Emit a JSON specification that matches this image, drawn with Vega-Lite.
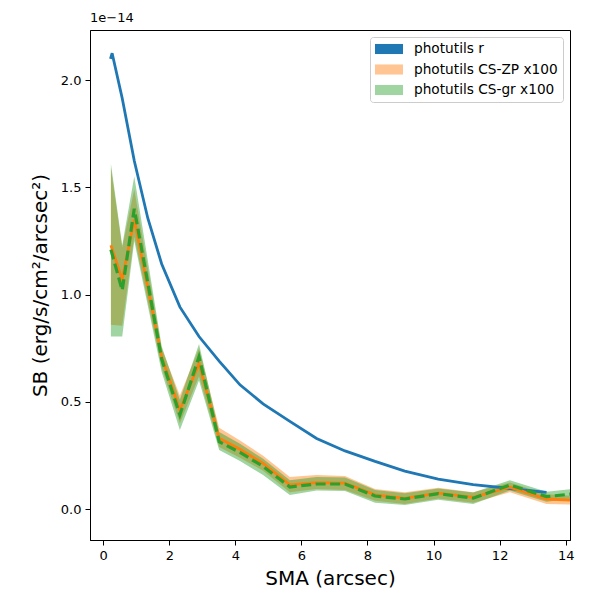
{
  "$schema": "https://vega.github.io/schema/vega-lite/v6.json",
  "width": 480,
  "height": 510,
  "autosize": {"type": "none"},
  "padding": {"left": 90, "top": 30, "right": 30, "bottom": 60},
  "background": "white",
  "title": {
    "text": "1e\u221214",
    "anchor": "start",
    "frame": "group",
    "fontSize": 13,
    "fontWeight": "normal",
    "font": "DejaVu Sans",
    "color": "black",
    "offset": 5
  },
  "config": {
    "font": "DejaVu Sans",
    "view": {"stroke": "black", "strokeWidth": 1},
    "axis": {
      "grid": false,
      "domainColor": "black",
      "tickColor": "black",
      "tickSize": 5,
      "labelColor": "black",
      "labelFontSize": 13,
      "titleColor": "black",
      "titleFontSize": 20,
      "titleFontWeight": "normal"
    }
  },
  "data": {
    "values": [
      {"sma": 0.22, "series": "photutils r", "sb": 2.098, "lo": 2.098, "hi": 2.098},
      {"sma": 0.27, "series": "photutils r", "sb": 2.125, "lo": 2.125, "hi": 2.125},
      {"sma": 0.575, "series": "photutils r", "sb": 1.915, "lo": 1.915, "hi": 1.915},
      {"sma": 0.94, "series": "photutils r", "sb": 1.624, "lo": 1.624, "hi": 1.624},
      {"sma": 1.35, "series": "photutils r", "sb": 1.356, "lo": 1.356, "hi": 1.356},
      {"sma": 1.77, "series": "photutils r", "sb": 1.143, "lo": 1.143, "hi": 1.143},
      {"sma": 2.32, "series": "photutils r", "sb": 0.943, "lo": 0.943, "hi": 0.943},
      {"sma": 2.9, "series": "photutils r", "sb": 0.805, "lo": 0.805, "hi": 0.805},
      {"sma": 3.51, "series": "photutils r", "sb": 0.69, "lo": 0.69, "hi": 0.69},
      {"sma": 4.14, "series": "photutils r", "sb": 0.58, "lo": 0.58, "hi": 0.58},
      {"sma": 4.84, "series": "photutils r", "sb": 0.491, "lo": 0.491, "hi": 0.491},
      {"sma": 5.65, "series": "photutils r", "sb": 0.41, "lo": 0.41, "hi": 0.41},
      {"sma": 6.46, "series": "photutils r", "sb": 0.33, "lo": 0.33, "hi": 0.33},
      {"sma": 7.32, "series": "photutils r", "sb": 0.272, "lo": 0.272, "hi": 0.272},
      {"sma": 8.23, "series": "photutils r", "sb": 0.223, "lo": 0.223, "hi": 0.223},
      {"sma": 9.13, "series": "photutils r", "sb": 0.178, "lo": 0.178, "hi": 0.178},
      {"sma": 10.14, "series": "photutils r", "sb": 0.141, "lo": 0.141, "hi": 0.141},
      {"sma": 11.2, "series": "photutils r", "sb": 0.115, "lo": 0.115, "hi": 0.115},
      {"sma": 12.31, "series": "photutils r", "sb": 0.097, "lo": 0.097, "hi": 0.097},
      {"sma": 13.42, "series": "photutils r", "sb": 0.079, "lo": 0.079, "hi": 0.079},

      {"sma": 0.233, "series": "photutils CS-ZP x100", "sb": 1.23, "lo": 0.86, "hi": 1.59},
      {"sma": 0.575, "series": "photutils CS-ZP x100", "sb": 1.07, "lo": 0.855, "hi": 1.22},
      {"sma": 0.94, "series": "photutils CS-ZP x100", "sb": 1.35, "lo": 1.27, "hi": 1.49},
      {"sma": 1.77, "series": "photutils CS-ZP x100", "sb": 0.71, "lo": 0.66, "hi": 0.75},
      {"sma": 2.32, "series": "photutils CS-ZP x100", "sb": 0.463, "lo": 0.4, "hi": 0.53},
      {"sma": 2.9, "series": "photutils CS-ZP x100", "sb": 0.68, "lo": 0.62, "hi": 0.75},
      {"sma": 3.51, "series": "photutils CS-ZP x100", "sb": 0.331, "lo": 0.29, "hi": 0.38},
      {"sma": 4.14, "series": "photutils CS-ZP x100", "sb": 0.28, "lo": 0.24, "hi": 0.32},
      {"sma": 4.84, "series": "photutils CS-ZP x100", "sb": 0.214, "lo": 0.18, "hi": 0.25},
      {"sma": 5.65, "series": "photutils CS-ZP x100", "sb": 0.114, "lo": 0.08, "hi": 0.15},
      {"sma": 6.46, "series": "photutils CS-ZP x100", "sb": 0.124, "lo": 0.095, "hi": 0.16},
      {"sma": 7.32, "series": "photutils CS-ZP x100", "sb": 0.122, "lo": 0.09, "hi": 0.155},
      {"sma": 8.23, "series": "photutils CS-ZP x100", "sb": 0.067, "lo": 0.04, "hi": 0.095},
      {"sma": 9.13, "series": "photutils CS-ZP x100", "sb": 0.051, "lo": 0.025, "hi": 0.08},
      {"sma": 10.14, "series": "photutils CS-ZP x100", "sb": 0.075, "lo": 0.05, "hi": 0.1},
      {"sma": 11.2, "series": "photutils CS-ZP x100", "sb": 0.056, "lo": 0.03, "hi": 0.08},
      {"sma": 12.31, "series": "photutils CS-ZP x100", "sb": 0.103, "lo": 0.08, "hi": 0.125},
      {"sma": 13.42, "series": "photutils CS-ZP x100", "sb": 0.048, "lo": 0.025, "hi": 0.07},
      {"sma": 14.55, "series": "photutils CS-ZP x100", "sb": 0.04, "lo": 0.02, "hi": 0.06},

      {"sma": 0.233, "series": "photutils CS-gr x100", "sb": 1.21, "lo": 0.805, "hi": 1.61},
      {"sma": 0.575, "series": "photutils CS-gr x100", "sb": 1.02, "lo": 0.805, "hi": 1.23},
      {"sma": 0.94, "series": "photutils CS-gr x100", "sb": 1.4, "lo": 1.25, "hi": 1.55},
      {"sma": 1.77, "series": "photutils CS-gr x100", "sb": 0.7, "lo": 0.64, "hi": 0.76},
      {"sma": 2.32, "series": "photutils CS-gr x100", "sb": 0.44, "lo": 0.37, "hi": 0.51},
      {"sma": 2.9, "series": "photutils CS-gr x100", "sb": 0.71, "lo": 0.6, "hi": 0.77},
      {"sma": 3.51, "series": "photutils CS-gr x100", "sb": 0.315, "lo": 0.276, "hi": 0.36},
      {"sma": 4.14, "series": "photutils CS-gr x100", "sb": 0.265, "lo": 0.225, "hi": 0.305},
      {"sma": 4.84, "series": "photutils CS-gr x100", "sb": 0.2, "lo": 0.16, "hi": 0.235},
      {"sma": 5.65, "series": "photutils CS-gr x100", "sb": 0.104, "lo": 0.067, "hi": 0.135},
      {"sma": 6.46, "series": "photutils CS-gr x100", "sb": 0.118, "lo": 0.088, "hi": 0.15},
      {"sma": 7.32, "series": "photutils CS-gr x100", "sb": 0.118, "lo": 0.085, "hi": 0.148},
      {"sma": 8.23, "series": "photutils CS-gr x100", "sb": 0.062, "lo": 0.03, "hi": 0.09},
      {"sma": 9.13, "series": "photutils CS-gr x100", "sb": 0.048, "lo": 0.02, "hi": 0.075},
      {"sma": 10.14, "series": "photutils CS-gr x100", "sb": 0.073, "lo": 0.045, "hi": 0.097},
      {"sma": 11.2, "series": "photutils CS-gr x100", "sb": 0.052, "lo": 0.025, "hi": 0.078},
      {"sma": 12.31, "series": "photutils CS-gr x100", "sb": 0.113, "lo": 0.088, "hi": 0.135},
      {"sma": 13.42, "series": "photutils CS-gr x100", "sb": 0.059, "lo": 0.035, "hi": 0.082},
      {"sma": 14.55, "series": "photutils CS-gr x100", "sb": 0.077, "lo": 0.055, "hi": 0.1}
    ]
  },
  "encoding": {
    "x": {
      "field": "sma",
      "type": "quantitative",
      "scale": {"domain": [-0.4, 14.13], "nice": false, "zero": false},
      "axis": {"title": "SMA (arcsec)", "values": [0, 2, 4, 6, 8, 10, 12, 14], "labelPadding": 4, "titlePadding": 6}
    }
  },
  "layer": [
    {
      "transform": [{"filter": "datum.series === 'photutils r'"}],
      "mark": {"type": "area", "clip": true, "strokeWidth": 0},
      "encoding": {
        "y": {
          "field": "lo",
          "type": "quantitative",
          "scale": {"domain": [-0.143, 2.233], "nice": false, "zero": false},
          "axis": {
            "title": "SB (erg/s/cm\u00b2/arcsec\u00b2)",
            "values": [0, 0.5, 1, 1.5, 2],
            "format": ".1f",
            "labelPadding": 4,
            "titlePadding": 10
          }
        },
        "y2": {"field": "hi"},
        "color": {
          "field": "series",
          "type": "nominal",
          "scale": {
            "domain": ["photutils r", "photutils CS-ZP x100", "photutils CS-gr x100"],
            "range": ["#1f77b4", "#ffc592", "#a0d4a0"]
          },
          "legend": {
            "title": null,
            "orient": "top-right",
            "offset": 7,
            "padding": 5,
            "rowPadding": 6.5,
            "strokeColor": "#cccccc",
            "fillColor": "rgba(255,255,255,0.8)",
            "cornerRadius": 3,
            "symbolType": "M -1 -0.72 L 3 -0.72 L 3 0.72 L -1 0.72 Z",
            "symbolSize": 196,
            "symbolStrokeWidth": 0,
            "symbolOpacity": 1,
            "labelFontSize": 13.7,
            "labelOffset": 25,
            "labelColor": "black",
            "labelLimit": 300
          }
        }
      }
    },
    {
      "transform": [{"filter": "datum.series === 'photutils CS-ZP x100'"}],
      "mark": {"type": "area", "clip": true, "color": "#ff7f0e", "fillOpacity": 0.45, "strokeWidth": 0},
      "encoding": {
        "y": {"field": "lo", "type": "quantitative"},
        "y2": {"field": "hi"}
      }
    },
    {
      "transform": [{"filter": "datum.series === 'photutils CS-gr x100'"}],
      "mark": {"type": "area", "clip": true, "color": "#2ca02c", "fillOpacity": 0.45, "strokeWidth": 0},
      "encoding": {
        "y": {"field": "lo", "type": "quantitative"},
        "y2": {"field": "hi"}
      }
    },
    {
      "transform": [{"filter": "datum.series === 'photutils r'"}],
      "mark": {"type": "line", "clip": true, "color": "#1f77b4", "strokeWidth": 2.8},
      "encoding": {"y": {"field": "sb", "type": "quantitative"}}
    },
    {
      "transform": [{"filter": "datum.series === 'photutils CS-ZP x100'"}],
      "mark": {"type": "line", "clip": true, "color": "#ff7f0e", "strokeWidth": 2.8},
      "encoding": {"y": {"field": "sb", "type": "quantitative"}}
    },
    {
      "transform": [{"filter": "datum.series === 'photutils CS-gr x100'"}],
      "mark": {"type": "line", "clip": true, "color": "#2ca02c", "strokeWidth": 3.2, "strokeDash": [10, 4.5]},
      "encoding": {"y": {"field": "sb", "type": "quantitative"}}
    },
    {
      "mark": {"type": "rule", "color": "black", "strokeWidth": 1.8, "strokeDash": [6.5, 3.5]},
      "encoding": {"y": {"datum": 0, "type": "quantitative"}}
    }
  ]
}
